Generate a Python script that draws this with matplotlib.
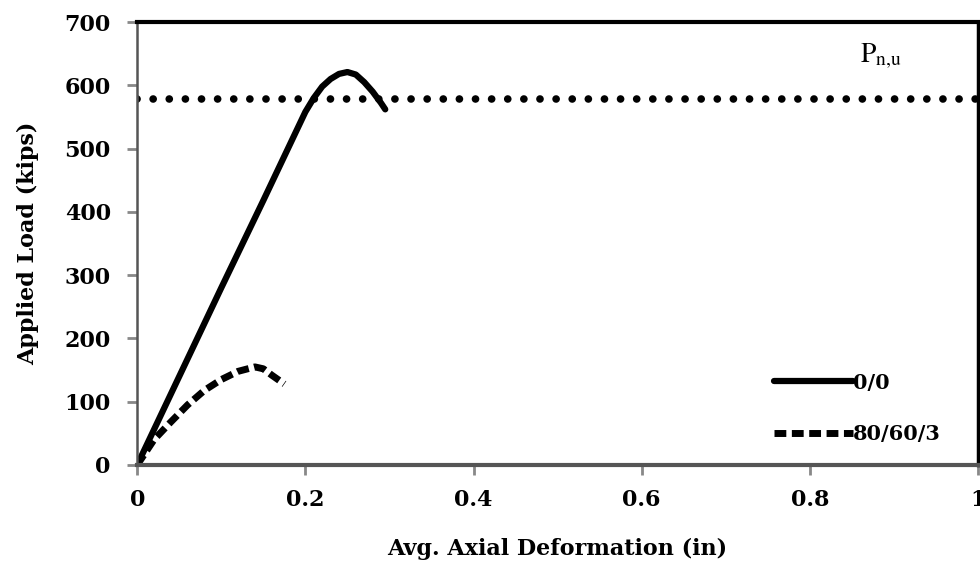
import numpy as np
import matplotlib.pyplot as plt

plt.rcParams['font.family'] = 'DejaVu Serif'
plt.rcParams['mathtext.fontset'] = 'stix'

# specimen 0/0
x_00 = [0, 0.05, 0.1, 0.15, 0.2, 0.21, 0.22, 0.23, 0.24, 0.25, 0.26, 0.27, 0.28, 0.29, 0.295]
y_00 = [0, 140, 280, 418, 558, 580, 598, 610, 618, 621, 617, 605, 590, 572, 562]

# specimen 80/60/3
x_80 = [0, 0.02, 0.04, 0.06, 0.08, 0.1, 0.12, 0.14, 0.15, 0.16, 0.175]
y_80 = [0, 40, 68, 95, 118, 135, 148, 155, 152, 142, 128]

p_nu = 578

fig = plt.figure(figsize=(9.8, 5.65), dpi=100)
ax = fig.add_axes([0.14, 0.177, 0.858, 0.784])

ax.axhline(p_nu, color='k', lw=5.5, linestyle=(0, (0.01, 2.1)),
           dash_capstyle='round', zorder=1)
ax.plot(x_00, y_00, color='k', lw=4.5, label='0/0', solid_capstyle='round',
        solid_joinstyle='round')
ax.plot(x_80, y_80, color='k', lw=5, linestyle=(0, (1.7, 0.8)), label='80/60/3')

ax.text(0.885, 622, r'$\mathrm{P}_{\mathrm{n{,}u}}$', fontsize=20, ha='center', va='bottom')

ax.set_xlim(0, 1)
ax.set_ylim(0, 700)
ax.set_xticks([0, 0.2, 0.4, 0.6, 0.8, 1])
ax.set_xticklabels(['0', '0.2', '0.4', '0.6', '0.8', '1'])
ax.set_yticks(range(0, 701, 100))

ax.spines['top'].set_linewidth(3)
ax.spines['top'].set_color('k')
ax.spines['right'].set_linewidth(2.5)
ax.spines['right'].set_color('k')
ax.spines['left'].set_linewidth(1.8)
ax.spines['left'].set_color('#555555')
ax.spines['bottom'].set_linewidth(3)
ax.spines['bottom'].set_color('#555555')
ax.tick_params(direction='out', length=7, width=2, color='#888888', labelsize=16)
ax.tick_params(axis='y', pad=12)
ax.tick_params(axis='x', pad=10)
for lab in ax.get_xticklabels() + ax.get_yticklabels():
    lab.set_fontweight('bold')

ax.set_xlabel('Avg. Axial Deformation (in)', fontsize=16, fontweight='bold', labelpad=20)
ax.set_ylabel('Applied Load (kips)', fontsize=16, fontweight='bold', labelpad=18)

leg = ax.legend(loc='lower right', frameon=False, fontsize=15, handlelength=3.8,
                handletextpad=0.0, labelspacing=1.5, bbox_to_anchor=(0.978, 0.005))
for t in leg.get_texts():
    t.set_fontweight('bold')

fig.savefig('out.png', dpi=100)
